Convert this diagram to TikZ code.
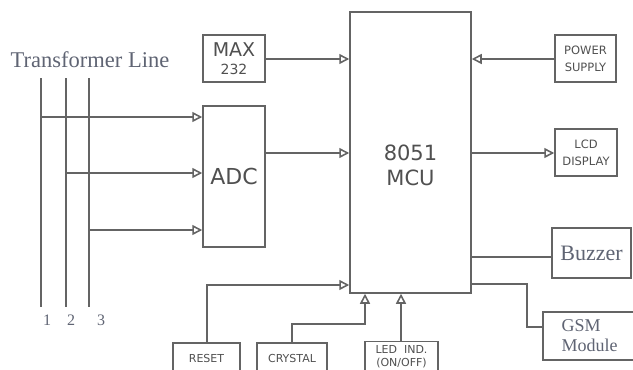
\documentclass[tikz,border=0pt]{standalone}
\usepackage{fontspec}
\setmainfont{Liberation Serif}
\setsansfont{DejaVu Sans}
\usetikzlibrary{arrows.meta, positioning, calc}
\definecolor{linecolor}{RGB}{100,100,100}
\definecolor{txtcolor}{RGB}{95,100,115}
\definecolor{boxtext}{RGB}{80,80,80}
\tikzset{
  blk/.style    = {draw=linecolor, line width=1.5pt, fill=white, align=center,
                   text=boxtext, font=\sffamily, inner sep=1pt},
  wire/.style   = {draw=linecolor, line width=1.6pt},
  sig/.style    = {wire, arrows={-{Triangle[open, length=10pt, width=10pt]}}},
  rlabel/.style = {text=txtcolor, font=\rmfamily},
}

\begin{document}
\begin{tikzpicture}[x=1pt, y=-1pt]
  \useasboundingbox (0,0) rectangle (633,370);
  % main blocks
  \node[blk, minimum width=121pt, minimum height=281pt] (mcu) at (410.5,152.5) {};
  \node[font=\sffamily\fontsize{21}{25}\selectfont, text=boxtext, align=center] (mcutxt) at (410.5,165) {8051\\MCU};
  \node[blk, minimum width=62pt, minimum height=47pt, font=\sffamily\fontsize{19}{18}\selectfont] (max) at (234,58.5)
    {MAX\\{\fontsize{14}{14}\selectfont 232}};
  \node[blk, minimum width=62pt, minimum height=141pt, font=\sffamily\fontsize{22}{24}\selectfont] (adc) at (234,176.5) {ADC};
  \node[blk, minimum width=61pt, minimum height=47pt, font=\sffamily\fontsize{11.5}{17}\selectfont] (power) at (585.5,58.5) {POWER\\SUPPLY};
  \node[blk, minimum width=62pt, minimum height=47pt, font=\sffamily\fontsize{11.5}{17}\selectfont] (lcd) at (586,152.5) {LCD\\DISPLAY};
  \node[blk, minimum width=79pt, minimum height=50pt, text=txtcolor, font=\rmfamily\fontsize{22}{24}\selectfont] (buzzer) at (591.5,253) {Buzzer};
  \node[blk, minimum width=93pt, minimum height=48pt, text=txtcolor, align=left, font=\rmfamily\fontsize{18}{20}\selectfont] (gsm) at (589.5,336) {GSM\\Module};
  % bottom inputs
  \node[blk, minimum width=67pt, minimum height=30pt, font=\sffamily\fontsize{11}{12}\selectfont] (reset) at (206.5,358) {RESET};
  \node[blk, minimum width=70pt, minimum height=30pt, font=\sffamily\fontsize{11}{12}\selectfont] (crystal) at (292,358) {CRYSTAL};
  \node[blk, minimum width=73pt, minimum height=30pt, font=\sffamily\fontsize{11}{12.5}\selectfont] (led) at (401.5,356.5) {LED~~IND.\\(ON/OFF)};

  % transformer lines
  \node[rlabel, font=\rmfamily\fontsize{22.5}{25}\selectfont] (trans) at (90,60) {Transformer Line};
  \foreach \i/\x/\y/\lx in {1/41/117/47, 2/66/173/71, 3/89/230/101} {
    \coordinate (top\i) at (\x,78);
    \coordinate (bot\i) at (\x,307);
    \coordinate (tap\i) at (\x,\y);
    \draw[wire] (top\i) -- (bot\i);
    \draw[sig] (tap\i) -- (adc.west |- tap\i);
    \node[rlabel, font=\rmfamily\fontsize{16}{18}\selectfont] (num\i) at (\lx,320) {\i};
  }

  % connectors to and from the MCU
  \draw[sig] (max.east |- 0,59) -- (mcu.west |- 0,59);
  \draw[sig] (adc.east |- 0,153) -- (mcu.west |- 0,153);
  \draw[sig] (power.west |- 0,59) -- (mcu.east |- 0,59);
  \draw[sig] (mcu.east |- 0,153) -- (lcd.west |- 0,153);
  \draw[wire] (mcu.east |- 0,257) -- (buzzer.west |- 0,257);
  \draw[wire] (mcu.east |- 0,284) -| (527,327) -- (gsm.west |- 0,327);
  \draw[sig] (reset.north -| 207,0) |- (mcu.west |- 0,285);
  \draw[sig] (crystal.north) |- (365,324) -- (mcu.south -| 365,0);
  \draw[sig] (led.north -| 401,0) -- (mcu.south -| 401,0);
\end{tikzpicture}
\end{document}
